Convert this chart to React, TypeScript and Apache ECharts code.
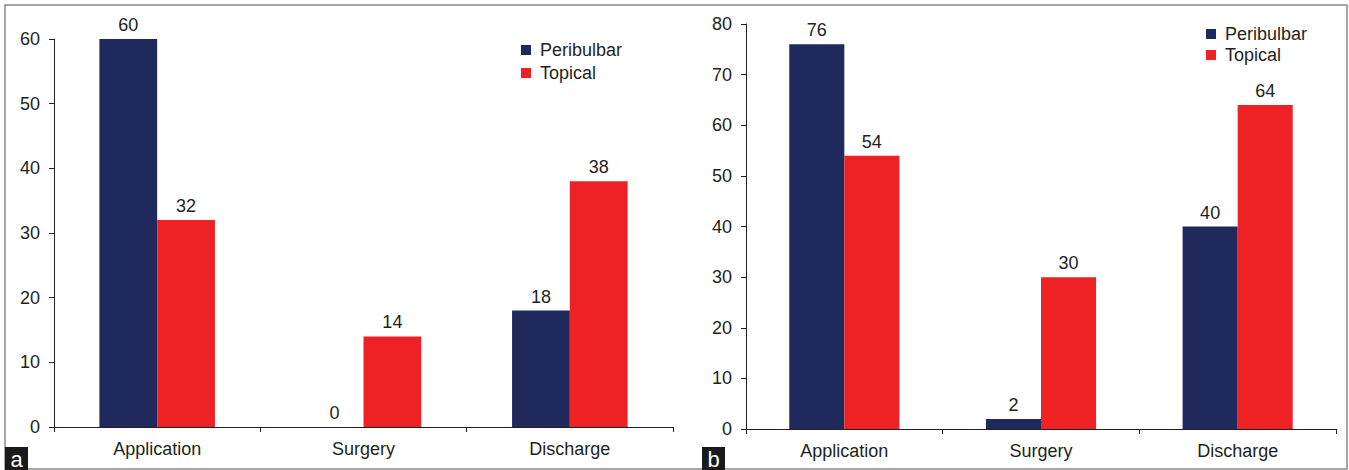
import React, { useEffect, useRef } from "react";
import * as echarts from "echarts";

const categories = ["Application", "Surgery", "Discharge"];
const seriesNames = ["Peribulbar", "Topical"];
const peribulbarA = [60, 0, 18];
const topicalA = [32, 14, 38];
const peribulbarB = [76, 2, 40];
const topicalB = [54, 30, 64];

const NAVY = "#1f295b";
const RED = "#ee2224";
const INK = "#231f20";
const FONT = "'Liberation Sans', Arial, sans-serif";
const FS = 18;

function barSeries(name: string, data: number[], idx: number, color: string) {
  return {
    type: "bar",
    name,
    data,
    xAxisIndex: idx,
    yAxisIndex: idx,
    barGap: "0%",
    barCategoryGap: "44%",
    itemStyle: { color },
    label: {
      show: true,
      position: "top",
      distance: 5,
      color: INK,
      fontSize: FS,
      fontFamily: FONT,
    },
  };
}

function catAxis(idx: number) {
  return {
    type: "category",
    gridIndex: idx,
    data: categories,
    axisLine: { lineStyle: { color: INK, width: 1 } },
    axisTick: { show: true, length: 5, alignWithLabel: false, lineStyle: { color: INK } },
    axisLabel: { color: INK, fontSize: FS, fontFamily: FONT, margin: 13 },
  };
}

function valAxis(idx: number, max: number) {
  return {
    type: "value",
    gridIndex: idx,
    min: 0,
    max,
    interval: 10,
    splitLine: { show: false },
    axisLine: { show: true, lineStyle: { color: INK, width: 1 } },
    axisTick: { show: true, length: 5, lineStyle: { color: INK } },
    axisLabel: { color: INK, fontSize: FS, fontFamily: FONT, margin: 14 },
  };
}

function legendAt(left: number, top: number, gap: number) {
  return {
    data: seriesNames,
    orient: "vertical",
    left,
    top,
    padding: 0,
    icon: "rect",
    itemWidth: 10,
    itemHeight: 10,
    itemGap: gap,
    selectedMode: false,
    textStyle: { color: INK, fontSize: FS, fontFamily: FONT, padding: [0, 0, 0, 4] },
  };
}

function panelTag(x: number, letter: string) {
  return [
    {
      type: "rect",
      shape: { x, y: 447, width: 23, height: 23 },
      style: { fill: "#1a1a1a" },
      silent: true,
    },
    {
      type: "text",
      x: x + 11.5,
      y: 459,
      style: {
        text: letter,
        fill: "#ffffff",
        fontSize: 22,
        fontFamily: FONT,
        align: "center",
        verticalAlign: "middle",
      },
      silent: true,
    },
  ];
}

export default function App() {
  const ref = useRef<HTMLDivElement>(null);

  useEffect(() => {
    if (!ref.current) return;
    const chart = echarts.init(ref.current, null, { renderer: "svg" });
    chart.setOption({
      animation: false,
      backgroundColor: "#ffffff",
      textStyle: { fontFamily: FONT },
      grid: [
        { left: 54, top: 39, width: 619, height: 388 },
        { left: 746, top: 24, width: 590, height: 405 },
      ],
      legend: [legendAt(521, 41, 5), legendAt(1206, 25, 3)],
      xAxis: [catAxis(0), catAxis(1)],
      yAxis: [valAxis(0, 60), valAxis(1, 80)],
      series: [
        barSeries(seriesNames[0], peribulbarA, 0, NAVY),
        barSeries(seriesNames[1], topicalA, 0, RED),
        barSeries(seriesNames[0], peribulbarB, 1, NAVY),
        barSeries(seriesNames[1], topicalB, 1, RED),
      ],
      graphic: [
        {
          type: "rect",
          shape: { x: 5, y: 5, width: 1342, height: 464 },
          style: { fill: "none", stroke: "#8a8a8a", lineWidth: 1.5 },
          silent: true,
        },
        ...panelTag(5, "a"),
        ...panelTag(702, "b"),
      ],
    });
    return () => chart.dispose();
  }, []);

  return (
    <div
      ref={ref}
      style={{ position: "absolute", left: 0, top: 0, width: 1349, height: 470 }}
    />
  );
}
